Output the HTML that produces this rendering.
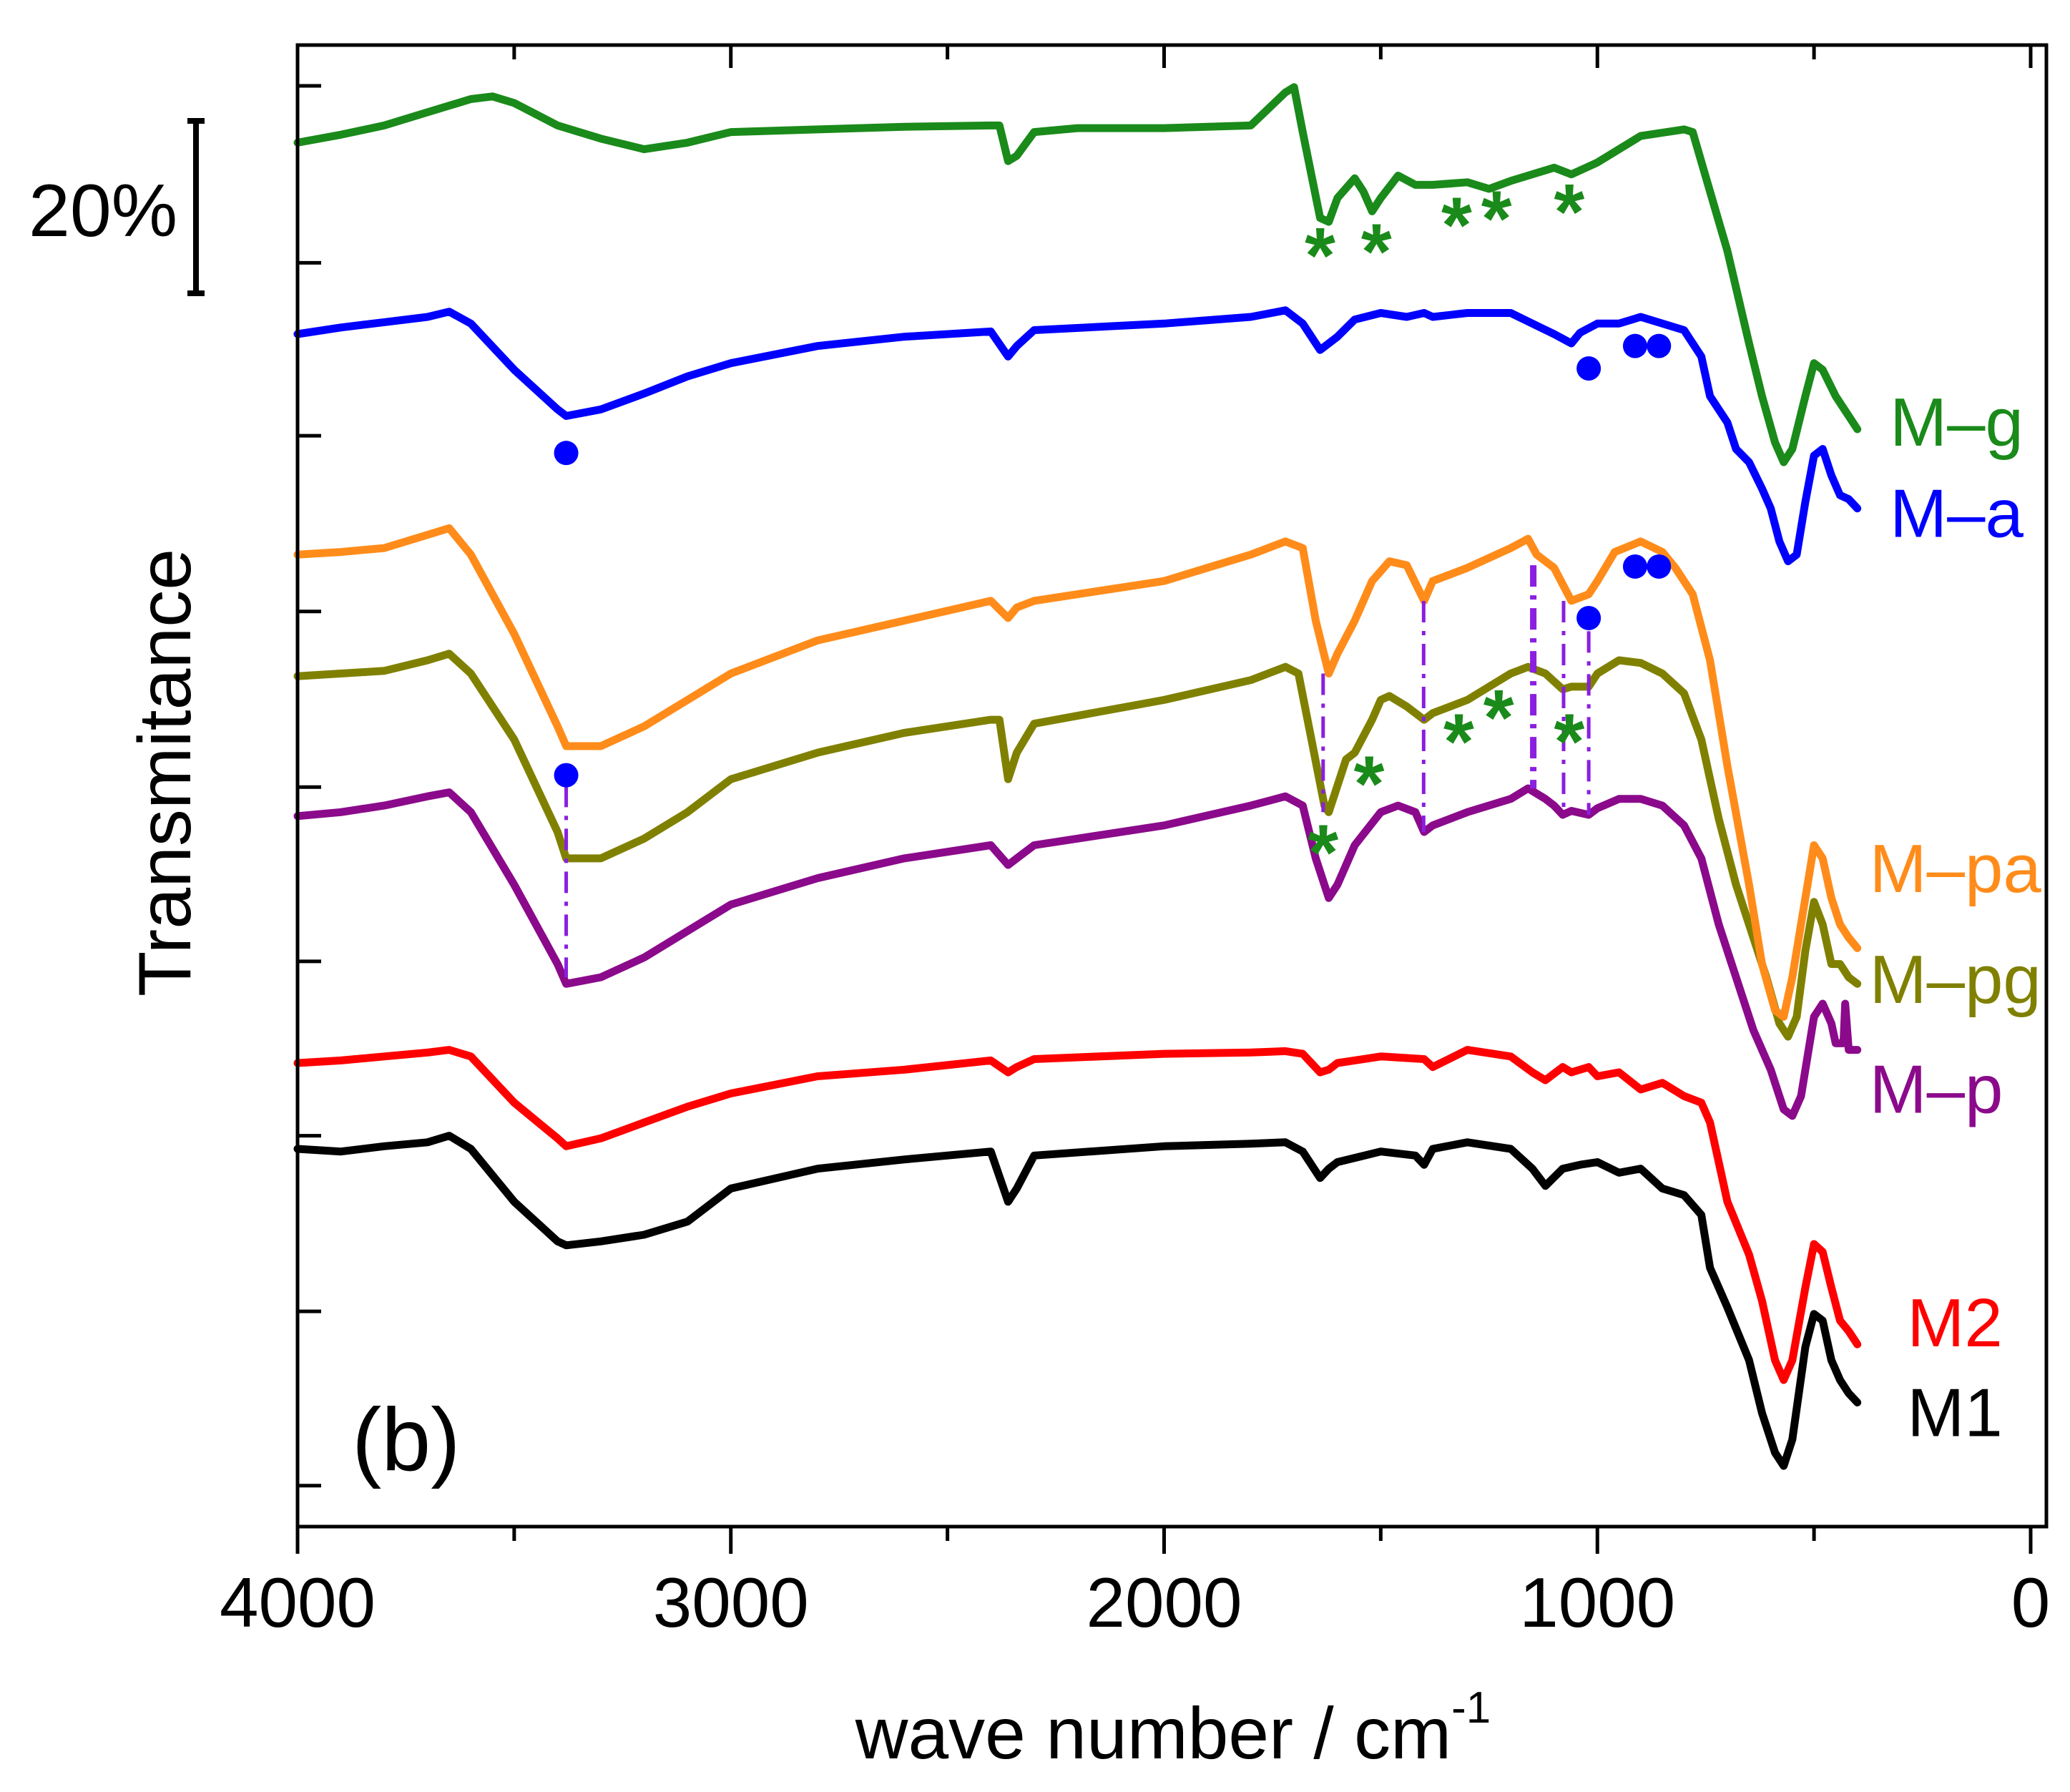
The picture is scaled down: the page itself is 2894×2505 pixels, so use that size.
<!DOCTYPE html>
<html><head><meta charset="utf-8"><style>
html,body{margin:0;padding:0;background:#fff;}
svg{display:block;}
text{font-family:"Liberation Sans",sans-serif;}
</style></head><body>
<svg id="chart" width="2894" height="2505" viewBox="0 0 2894 2505" xmlns="http://www.w3.org/2000/svg">
<rect x="0" y="0" width="2894" height="2505" fill="#fff"/>
<g id="plot"></g>
<rect x="416" y="63" width="2445" height="2071" fill="none" stroke="#000" stroke-width="5"/>
<g id="axes"></g>
<text x="1640" y="2458" font-size="102" text-anchor="middle">wave number / cm<tspan font-size="62" dy="-50">-1</tspan></text>
<text x="0" y="0" font-size="104" text-anchor="middle" transform="translate(266,1080) rotate(-90)">Transmitance</text>
<text x="492" y="2055" font-size="124">(b)</text>
<text x="40" y="330" font-size="104">20%</text>
<g stroke="#000" stroke-width="8">
<line x1="274" y1="167" x2="274" y2="412"/><line x1="262" y1="169" x2="286" y2="169"/><line x1="262" y1="410" x2="286" y2="410"/>
</g>
</svg>
<script>
const NS='http://www.w3.org/2000/svg';
const xTicksMajor=[4000,3000,2000,1000,0];
const xTicksMinor=[3500,2500,1500,500];
const yTicks=[65,199,330,463,596,728,860,993,1125];
const gWn=[4000,3900,3800,3700,3600,3550,3500,3400,3300,3200,3100,3000,2800,2600,2400,2380,2360,2340,2300,2200,2000,1800,1720,1700,1680,1640,1620,1600,1560,1540,1520,1500,1460,1420,1380,1300,1250,1200,1100,1060,1000,900,800,780,740,700,650,620,590,570,550,520,500,480,450,420,400];
const gVal=[108,102,95,85,75,73,78,95,105,113,108,100,98,96,95,95,122,118,100,97,97,95,70,66,100,165,168,150,135,145,160,150,133,140,140,138,143,137,127,132,123,103,98,100,145,190,260,300,335,350,340,300,275,280,300,315,325];
const aWn=[4000,3900,3800,3700,3650,3600,3500,3400,3380,3300,3200,3100,3000,2800,2600,2400,2360,2340,2300,2000,1800,1720,1680,1640,1600,1560,1500,1440,1400,1380,1300,1200,1150,1100,1060,1040,1000,950,900,850,800,760,740,700,680,650,620,600,580,560,540,520,500,480,460,440,420,400];
const aVal=[253,248,244,240,236,245,280,310,315,310,298,285,275,262,255,251,270,262,250,245,240,235,245,265,255,242,237,240,237,240,237,237,245,253,260,252,245,245,240,245,250,270,300,320,340,350,370,385,410,425,420,380,345,340,360,375,378,385];
const paWn=[4000,3900,3800,3700,3650,3600,3500,3400,3380,3300,3200,3100,3000,2800,2600,2400,2360,2340,2300,2000,1800,1720,1680,1650,1620,1600,1560,1520,1480,1440,1400,1380,1300,1200,1160,1140,1100,1060,1020,1000,960,900,850,820,780,740,700,650,620,590,570,550,520,500,480,460,440,420,400];
const paVal=[420,418,415,405,400,420,480,550,565,565,550,530,510,485,470,455,468,460,455,440,420,410,415,470,510,495,470,440,425,428,455,440,430,415,408,420,430,455,450,440,418,410,418,430,450,500,580,670,730,765,770,740,680,640,650,680,700,710,718];
const pgWn=[4000,3900,3800,3700,3650,3600,3500,3400,3380,3300,3200,3100,3000,2800,2600,2400,2380,2360,2340,2300,2000,1800,1720,1690,1660,1630,1620,1600,1580,1560,1520,1500,1480,1440,1400,1380,1300,1250,1200,1160,1120,1080,1060,1020,1000,950,900,850,800,760,720,680,640,610,580,560,540,520,500,480,460,440,430,420,400];
const pgVal=[512,510,508,500,495,510,560,630,650,650,635,615,590,570,555,545,545,590,570,548,530,515,505,510,560,610,615,595,575,570,545,530,527,535,545,540,530,520,510,505,510,522,520,520,510,500,502,510,525,560,620,670,710,740,775,785,770,720,683,700,730,730,735,740,745];
const pWn=[4000,3900,3800,3700,3650,3600,3500,3400,3380,3300,3200,3100,3000,2800,2600,2400,2360,2340,2300,2000,1800,1720,1680,1650,1620,1600,1560,1500,1460,1420,1400,1380,1300,1200,1160,1120,1100,1080,1060,1020,1000,950,900,850,800,760,720,680,640,600,570,550,530,500,480,460,450,440,432,428,420,400];
const pVal=[618,615,610,603,600,615,670,730,745,740,725,705,685,665,650,640,655,650,640,625,610,603,610,650,680,670,640,615,610,615,630,625,615,605,597,605,610,617,614,617,612,605,605,610,625,650,700,740,780,810,840,845,830,770,760,775,790,790,790,760,795,795];
const m2Wn=[4000,3900,3800,3700,3650,3600,3500,3400,3380,3300,3200,3100,3000,2800,2600,2400,2360,2340,2300,2000,1800,1720,1680,1640,1620,1600,1500,1400,1380,1300,1200,1150,1120,1080,1060,1020,1000,950,900,850,800,760,740,720,700,650,620,590,570,550,520,500,480,460,440,420,400];
const m2Val=[805,803,800,797,795,800,835,862,868,862,850,838,828,815,810,803,812,808,802,798,797,796,798,812,810,805,800,802,808,795,800,812,818,808,812,808,815,812,825,820,830,835,850,880,910,950,985,1030,1045,1030,975,942,948,975,1000,1008,1018];
const m1Wn=[4000,3900,3800,3700,3650,3600,3500,3400,3380,3300,3200,3100,3000,2800,2600,2400,2360,2340,2300,2000,1800,1720,1680,1640,1620,1600,1500,1420,1400,1380,1300,1200,1150,1120,1080,1040,1000,950,900,850,800,760,740,700,650,620,590,570,550,520,500,480,460,440,420,400];
const m1Val=[870,872,868,865,860,870,910,940,943,940,935,925,900,885,878,872,910,900,875,868,866,865,872,892,885,880,872,875,882,870,865,870,885,898,885,882,880,888,885,900,905,920,960,990,1030,1070,1100,1110,1090,1020,995,1000,1030,1045,1055,1062];
const seriesNames=['M–g','M–a','M–pa','M–pg','M–p','M2','M1'];
const seriesColors=['#1a8a1a','#0000ff','#ff8c1a','#808000','#8b0a8b','#ff0000','#000000'];
const labelWn=[325,325,372,372,372,285,285];
const labelVal=[318,387,656,740,823,1000,1068];
const dotWn=[3380,1020,913,858,913,858,1020,3380];
const dotVal=[343,279,262,262,429,429,468,587];
const starWn=[1640,1510,1325,1233,1065,1527,1320,1228,1065,1633];
const starVal=[188,185,165,160,155,588,556,538,556,640];
const vlineWn=[1633,1401,1148,1078,1020,3380];
const vlineTop=[510,455,428,455,478,595];
const vlineBot=[615,630,597,617,617,740];

function xS(wn){return 416+(4000-wn)*(2423/4000);}
function yS(v){return v*(2134/1156);}
const plot=document.getElementById('plot');
const axes=document.getElementById('axes');
function mk(tag,attrs,parent){const e=document.createElementNS(NS,tag);for(const k in attrs)e.setAttribute(k,attrs[k]);parent.appendChild(e);return e;}

xTicksMajor.forEach(t=>{
  const l=mk('line',{x1:xS(t),x2:xS(t),y1:2134,y2:2172,stroke:'#000','stroke-width':5},axes);
  
  
  const l2=mk('line',{x1:xS(t),x2:xS(t),y1:63,y2:95,stroke:'#000','stroke-width':5},axes);
  
  
  const tx=mk('text',{x:xS(t),y:2274,'font-size':98,'text-anchor':'middle'},axes);
  tx.textContent=String(t);
  
  
});
xTicksMinor.forEach(t=>{
  const l=mk('line',{x1:xS(t),x2:xS(t),y1:2134,y2:2154,stroke:'#000','stroke-width':5},axes);
  
  
  const l2=mk('line',{x1:xS(t),x2:xS(t),y1:63,y2:83,stroke:'#000','stroke-width':5},axes);
  
  
});
yTicks.forEach(t=>{
  const l=mk('line',{x1:416,x2:449,y1:yS(t),y2:yS(t),stroke:'#000','stroke-width':5},axes);
  
  
});

const allWn=[gWn,aWn,paWn,pgWn,pWn,m2Wn,m1Wn];
const allVal=[gVal,aVal,paVal,pgVal,pVal,m2Val,m1Val];
const slug=['m-g','m-a','m-pa','m-pg','m-p','m2','m1'];
for(let s=6;s>=0;s--){
  const w=allWn[s],v=allVal[s];
  let d='';
  for(let i=0;i<w.length;i++){d+=(i?'L':'M')+xS(w[i]).toFixed(1)+','+yS(v[i]).toFixed(1);}
  const p=mk('path',{d:d,fill:'none',stroke:seriesColors[s],'stroke-width':11,'stroke-linejoin':'round','stroke-linecap':'round'},plot);
  
  
  const t=mk('text',{x:xS(labelWn[s]),y:yS(labelVal[s])+36,'font-size':96,fill:seriesColors[s]},plot);
  t.textContent=seriesNames[s];
  
  
}
for(let i=0;i<vlineWn.length;i++){
  const l=mk('line',{x1:xS(vlineWn[i]),x2:xS(vlineWn[i]),y1:yS(vlineTop[i]),y2:yS(vlineBot[i]),stroke:'#8a1fe0','stroke-width':i==2?9:5,'stroke-dasharray':'30,12,6,12'},plot);
  
  
}
for(let i=0;i<dotWn.length;i++){
  const c=mk('circle',{cx:xS(dotWn[i]),cy:yS(dotVal[i]),r:17,fill:'#0000ff'},plot);
  
  
}
for(let i=0;i<starWn.length;i++){
  const t=mk('text',{x:xS(starWn[i]),y:yS(starVal[i])+48,'font-size':110,'font-weight':'bold','text-anchor':'middle',fill:'#1a8a1a'},plot);
  t.textContent='*';
  
  
}
</script>
</body></html>
